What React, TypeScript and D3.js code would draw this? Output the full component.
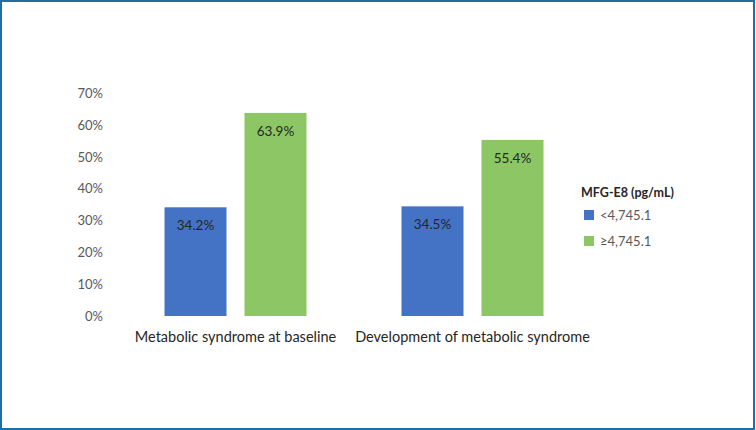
import React from "react";
import * as d3 from "d3";

const categories = ["Metabolic syndrome at baseline", "Development of metabolic syndrome"];
const seriesNames = ["<4,745.1", "≥4,745.1"];
const lowValues = [34.2, 34.5];
const highValues = [63.9, 55.4];
const yTicks = [0, 10, 20, 30, 40, 50, 60, 70];
const legendTitle = "MFG-E8 (pg/mL)";
const colors = ["#4472C4", "#8CC665"];

export default function App() {
  const W = 756, H = 430;
  const font = "Lato, 'Open Sans', sans-serif";
  const x0 = d3.scaleBand().domain(categories).range([117, 591]).paddingInner(0).paddingOuter(0);
  const x1 = d3.scaleBand().domain(seriesNames).range([0, x0.bandwidth()]).paddingInner(0.225).paddingOuter(0.594);
  const y = d3.scaleLinear().domain([0, 70]).range([316, 93.5]);
  const series = [lowValues, highValues];

  return (
    <svg width={W} height={H} style={{ position: "absolute", left: 0, top: 0, background: "#fff" }}>
      <rect x={1} y={1} width={W - 3} height={H - 2} fill="#fff" stroke="#1f6ea6" strokeWidth={2} />
      {yTicks.map((t) => (
        <text key={t} x={103} y={y(t)} dy="0.35em" textAnchor="end" fontFamily={font} fontSize={13} fill="#595959">
          {t}%
        </text>
      ))}
      {categories.map((c, ci) => (
        <g key={c} transform={`translate(${x0(c)},0)`}>
          {seriesNames.map((s, si) => {
            const v = series[si][ci];
            const bx = x1(s)!;
            return (
              <g key={s}>
                <rect x={bx} y={y(v)} width={x1.bandwidth()} height={y(0) - y(v)} fill={colors[si]} />
                <text x={bx + x1.bandwidth() / 2} y={y(v) + 18} dy="0.35em" textAnchor="middle" fontFamily={font} fontSize={13.5} fill="#262626">
                  {v.toFixed(1)}%
                </text>
              </g>
            );
          })}
          <text x={x0.bandwidth() / 2} y={337} dy="0.35em" textAnchor="middle" fontFamily={font} fontSize={14.5} fill="#262626">
            {c}
          </text>
        </g>
      ))}
      <text x={581} y={193} dy="0.35em" fontFamily={font} fontSize={12.5} fontWeight="bold" fill="#262626">
        {legendTitle}
      </text>
      {seriesNames.map((s, i) => (
        <g key={s} transform={`translate(584,${210 + i * 26})`}>
          <rect width={10} height={10} fill={colors[i]} />
          <text x={16} y={5} dy="0.35em" fontFamily={font} fontSize={13} fill="#595959">
            {s}
          </text>
        </g>
      ))}
    </svg>
  );
}
